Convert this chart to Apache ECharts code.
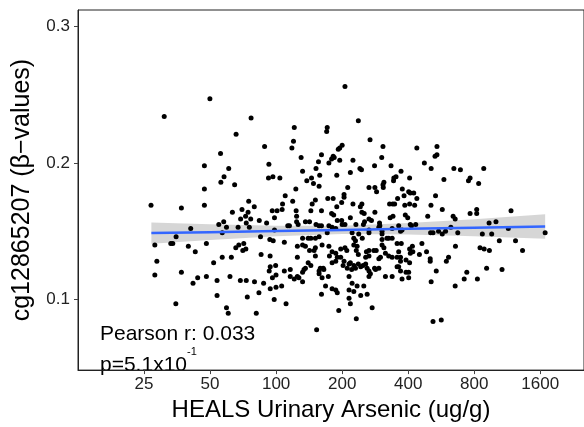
<!DOCTYPE html>
<html>
<head>
<meta charset="utf-8">
<script src="https://cdn.jsdelivr.net/npm/echarts@6/dist/echarts.min.js"></script>
<style>
  html, body { margin: 0; padding: 0; background: #fff; }
  #chart { width: 584px; height: 427px; }
</style>
</head>
<body>
<div id="chart"></div>
<script>
// tick labels
const xTicks = [25, 50, 100, 200, 400, 800, 1600];
const yTicks = [0.1, 0.2, 0.3];

// samples: [urinary arsenic (ug/g), beta value]
const samples = [
  [206, 0.256], [30.9, 0.234], [49.9, 0.247], [76.9, 0.233], [65.7, 0.221], [121, 0.226],
  [171, 0.226], [170, 0.223], [120, 0.216], [118, 0.211], [88.6, 0.212], [55.8, 0.207],
  [161, 0.206], [184, 0.204], [179, 0.203], [174, 0.200], [192, 0.210], [130, 0.204],
  [47.1, 0.198], [60.8, 0.196], [92.7, 0.199], [156, 0.201], [132, 0.194], [152, 0.196],
  [57.9, 0.190], [56, 0.186], [92.3, 0.189], [96.7, 0.190], [104, 0.189], [138, 0.187],
  [145, 0.189], [148, 0.185], [157, 0.183], [158, 0.191], [189, 0.191], [64.7, 0.184],
  [47.1, 0.181], [123, 0.181], [110, 0.176], [26.9, 0.169], [37, 0.167], [47.1, 0.169],
  [75, 0.172], [79.5, 0.168], [107, 0.170], [119, 0.172], [69.9, 0.166], [74.5, 0.164],
  [72.6, 0.161], [68.9, 0.159], [63.2, 0.164], [96, 0.165], [101, 0.165], [106.5, 0.166],
  [123.4, 0.165], [124, 0.161], [144, 0.165], [146, 0.170], [151, 0.173], [172, 0.174],
  [182, 0.174], [161, 0.165], [179, 0.163], [183, 0.162], [83.8, 0.158], [90.5, 0.156],
  [98.3, 0.160], [113, 0.154], [124, 0.157], [126, 0.155], [136, 0.157], [142, 0.157],
  [54.8, 0.155], [57.7, 0.157], [59.4, 0.153], [40.8, 0.152], [67.1, 0.153], [75.5, 0.153],
  [73.1, 0.156], [152, 0.155], [161, 0.154], [76.6, 0.159],
  [237, 0.231], [268, 0.217], [438, 0.211], [307, 0.212], [541, 0.212], [541, 0.206],
  [530, 0.205], [200, 0.213], [195, 0.211], [182, 0.205], [224, 0.202], [303, 0.204],
  [474, 0.200], [281, 0.198], [334, 0.198], [195, 0.202], [241, 0.196], [245, 0.195],
  [218, 0.193], [509, 0.196], [646, 0.196], [692, 0.195], [884, 0.196], [371, 0.194],
  [352, 0.190], [344, 0.189], [343, 0.187], [406, 0.189], [582, 0.188], [766, 0.189],
  [753, 0.187], [838, 0.185], [310, 0.186], [307, 0.184], [308, 0.182], [287, 0.179],
  [265, 0.182], [282, 0.182], [212, 0.182], [204, 0.177], [204, 0.175], [376, 0.181],
  [402, 0.179], [409, 0.178], [424, 0.178], [438, 0.174], [383, 0.176], [358, 0.174],
  [340, 0.170], [533, 0.176], [199, 0.171], [189, 0.168], [224, 0.170], [246, 0.170],
  [242, 0.168], [246, 0.164], [252, 0.163], [329, 0.170], [347, 0.170], [406, 0.170],
  [428, 0.169], [386, 0.169], [508, 0.169], [572, 0.166], [282, 0.164], [265, 0.159],
  [491, 0.161], [641, 0.161], [655, 0.159], [766, 0.163], [821, 0.166], [821, 0.163],
  [1177, 0.165], [199, 0.158], [190, 0.158], [200, 0.155], [206, 0.155], [218, 0.160],
  [231, 0.155], [250, 0.155], [253, 0.157], [272, 0.158], [296, 0.156], [331, 0.160],
  [341, 0.161], [388, 0.162], [398, 0.160], [409, 0.155], [433, 0.155], [297, 0.154],
  [294, 0.153], [935, 0.156], [1005, 0.157], [506, 0.149], [519, 0.149], [550, 0.150],
  [592, 0.150], [673, 0.149], [871, 0.148], [961, 0.148], [222, 0.149], [238, 0.148],
  [369, 0.150], [304, 0.148], [180, 0.153], [174, 0.154],
  [1144, 0.152], [1041, 0.143], [1234, 0.143], [850, 0.138], [888, 0.137], [938, 0.136],
  [1328, 0.136], [1684, 0.149],
  [362, 0.154], [414, 0.154], [626, 0.153], [572, 0.148], [372, 0.141], [462, 0.141],
  [657, 0.139], [418, 0.139], [406, 0.137], [420, 0.135], [409, 0.134], [362, 0.135],
  [485, 0.135], [450, 0.133], [611, 0.131], [597, 0.128], [504, 0.130], [504, 0.128],
  [391, 0.129], [369, 0.128], [406, 0.127], [362, 0.124], [402, 0.120], [391, 0.120],
  [537, 0.121], [911, 0.123], [1071, 0.122], [740, 0.120], [375, 0.115], [402, 0.116],
  [720, 0.115], [827, 0.115], [509, 0.113], [655, 0.110], [519, 0.084], [566, 0.085],
  [35, 0.146], [33.1, 0.141], [33.8, 0.141], [28, 0.140], [39.8, 0.139], [42.8, 0.135],
  [48.1, 0.141], [28.6, 0.128], [28, 0.118], [37, 0.120], [41.8, 0.112], [43.9, 0.116],
  [48.1, 0.117], [51.9, 0.127], [56.8, 0.131], [62.5, 0.131], [53.8, 0.114], [61.6, 0.117],
  [68.7, 0.114], [73.1, 0.114], [79.7, 0.113], [87.7, 0.112], [53.8, 0.103], [73.9, 0.102],
  [83.5, 0.105], [34.9, 0.097], [59.4, 0.094], [60.5, 0.090], [81.2, 0.090],
  [65.5, 0.138], [67.6, 0.140], [71.2, 0.141], [72.8, 0.137], [70.5, 0.136],
  [56.8, 0.149], [84.9, 0.146], [93.6, 0.144], [97, 0.143], [98.3, 0.151], [85.4, 0.133],
  [93.9, 0.132], [99.5, 0.125], [93, 0.121], [96.2, 0.116], [99.9, 0.118], [99.9, 0.109],
  [98, 0.100],
  [109, 0.142], [132, 0.145], [140, 0.145], [144, 0.145], [151, 0.145], [157, 0.146],
  [162, 0.140], [151, 0.138], [142, 0.136], [136, 0.139], [132, 0.140], [125, 0.139],
  [125, 0.131], [94, 0.124], [149, 0.136], [151, 0.132], [140, 0.127], [144, 0.125],
  [174, 0.139], [180, 0.135], [187, 0.134], [197, 0.137], [206, 0.138], [210, 0.136],
  [190, 0.131], [197, 0.131], [159, 0.123], [157, 0.121], [164, 0.123], [165, 0.122],
  [157, 0.119], [162, 0.116], [175, 0.132], [180, 0.127], [187, 0.128], [173, 0.117],
  [204, 0.128], [202, 0.125], [215, 0.126], [221, 0.122], [211, 0.123], [218, 0.127],
  [226, 0.145], [230, 0.143], [226, 0.140], [234, 0.139], [232, 0.136], [237, 0.133],
  [247, 0.145], [265, 0.149], [258, 0.135], [265, 0.136], [279, 0.136], [286, 0.136],
  [256, 0.131], [265, 0.132], [294, 0.130], [299, 0.131], [226, 0.125], [230, 0.123],
  [237, 0.126], [243, 0.124], [249, 0.125], [256, 0.126], [260, 0.123], [265, 0.121],
  [269, 0.119], [265, 0.117], [281, 0.123], [284, 0.122], [294, 0.123], [215, 0.117],
  [222, 0.112], [234, 0.110], [251, 0.110], [260, 0.104], [243, 0.103], [226, 0.106],
  [215, 0.107], [215, 0.101], [218, 0.097], [193, 0.092], [232, 0.086], [274, 0.094],
  [161, 0.104], [168, 0.110], [180, 0.108], [187, 0.107], [190, 0.105], [134, 0.122],
  [136, 0.123], [132, 0.120], [121, 0.115], [127, 0.116], [132, 0.113], [116, 0.117],
  [125, 0.117], [109, 0.121], [116, 0.122], [106, 0.110], [111, 0.097], [94, 0.108],
  [315, 0.134], [326, 0.132], [338, 0.131], [356, 0.131], [369, 0.131], [356, 0.124],
  [369, 0.121], [304, 0.140], [310, 0.138], [320, 0.145], [326, 0.145], [338, 0.145],
  [356, 0.141], [304, 0.144], [315, 0.117], [338, 0.117],
  [115, 0.154], [157, 0.154], [171, 0.149], [187, 0.152], [265, 0.151], [304, 0.150],
  [338, 0.152], [375, 0.151], [153, 0.078]
];

// linear fit (in log x) and its confidence band
const fitX = [27, 50, 100, 200, 400, 800, 1684];
const fitY = [0.1487, 0.1494, 0.1502, 0.1510, 0.1518, 0.1526, 0.1535];
const bandLow = [0.1409, 0.1437, 0.1464, 0.1480, 0.1476, 0.1463, 0.1446];
const bandHigh = [0.1565, 0.1551, 0.1540, 0.1540, 0.1560, 0.1589, 0.1624];

const statLine = 'Pearson r: 0.033';
const pLine = 'p=5.1x10';
const pExp = '-1';

const FONT = '"Liberation Sans", Arial, Helvetica, sans-serif';

const chart = echarts.init(document.getElementById('chart'));

// band polygon: upper edge left to right, lower edge back
const renderBand = (params, api) => {
  if (params.dataIndex !== 0) return null;
  const upper = fitX.map((x, i) => api.coord([x, bandHigh[i]]));
  const lower = fitX.map((x, i) => api.coord([x, bandLow[i]])).reverse();
  return {
    type: 'polygon',
    shape: { points: upper.concat(lower) },
    style: { fill: 'rgba(153,153,153,0.4)' }
  };
};

const option = {
  animation: false,
  backgroundColor: '#fff',
  grid: {
    left: 78, right: -2, top: 10, bottom: 51,
    show: true, borderColor: '#222', borderWidth: 1
  },
  xAxis: {
    type: 'log',
    logBase: 2,
    min: 12.5,
    max: 2532,
    name: 'HEALS Urinary Arsenic (ug/g)',
    nameLocation: 'middle',
    nameGap: 27,
    nameTextStyle: { fontFamily: FONT, fontSize: 24, color: '#000' },
    axisLine: { show: true, lineStyle: { color: '#222', width: 1 } },
    axisTick: { show: true, length: 4, lineStyle: { color: '#444' }, customValues: xTicks },
    axisLabel: {
      customValues: xTicks, margin: 6,
      fontFamily: FONT, fontSize: 17, color: '#222',
      formatter: v => String(Math.round(v))
    },
    splitLine: { show: false },
    minorTick: { show: false }
  },
  yAxis: {
    type: 'value',
    min: 0.0484,
    max: 0.312,
    name: 'cg12865207 (β−values)',
    nameLocation: 'middle',
    nameGap: 43,
    nameTextStyle: { fontFamily: FONT, fontSize: 25, color: '#000' },
    axisLine: { show: true, lineStyle: { color: '#222', width: 1 } },
    axisTick: { show: true, length: 4, lineStyle: { color: '#444' }, customValues: yTicks },
    axisLabel: {
      customValues: yTicks, margin: 8,
      fontFamily: FONT, fontSize: 17, color: '#222',
      formatter: v => v.toFixed(1)
    },
    splitLine: { show: false }
  },
  series: [
    {
      type: 'scatter',
      data: samples,
      symbolSize: 5,
      itemStyle: { color: '#000', opacity: 1 },
      silent: true
    },
    {
      type: 'custom',
      renderItem: renderBand,
      data: [[fitX[0], fitY[0]]],
      silent: true
    },
    {
      type: 'line',
      data: fitX.map((x, i) => [x, fitY[i]]),
      symbol: 'none',
      lineStyle: { color: '#3366FF', width: 2.5 },
      silent: true
    }
  ],
  graphic: [
    {
      type: 'text', left: 100, top: 324,
      style: { text: statLine, font: '21px ' + FONT, fill: '#000' }
    },
    {
      type: 'text', left: 100, top: 355,
      style: { text: pLine, font: '21px ' + FONT, fill: '#000' }
    },
    {
      type: 'text', left: 187, top: 346,
      style: { text: pExp, font: '11px ' + FONT, fill: '#000' }
    }
  ]
};

chart.setOption(option);
</script>
</body>
</html>
